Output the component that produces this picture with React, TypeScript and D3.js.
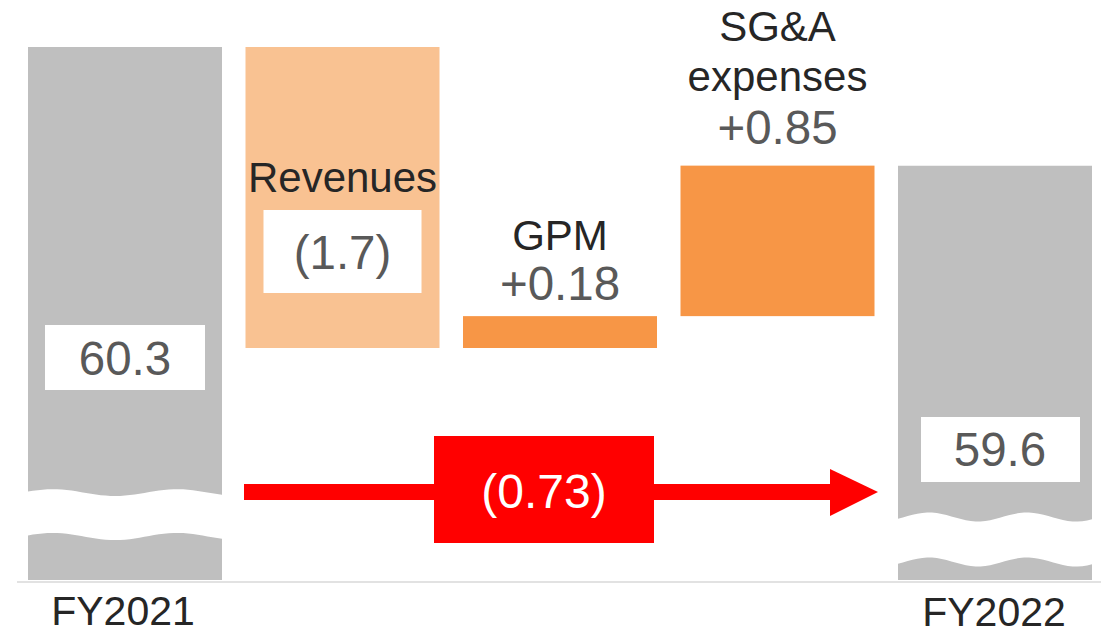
import React from "react";
import * as d3 from "d3";

const categories = ["FY2021", "Revenues", "GPM", "SG&A expenses", "FY2022"];
const startValue = 60.3;
const deltas = [-1.7, 0.18, 0.85];
const deltaLabels = ["(1.7)", "+0.18", "+0.85"];
const totalLabels = ["60.3", "59.6"];
const changeLabel = "(0.73)";

const W = 1101;
const H = 634;
const FONT = "'Liberation Sans', Arial, sans-serif";
const GRAY = "#BFBFBF";
const LIGHT_ORANGE = "#F9C292";
const ORANGE = "#F79646";
const RED = "#FF0000";
const NAME_COLOR = "#262626";
const VALUE_COLOR = "#595959";
const NAME_SIZE = 42;
const VALUE_SIZE = 47.5;

export default function App() {
  const x = d3
    .scaleBand<string>()
    .domain(categories)
    .range([16.25, 1103.75])
    .paddingInner(0.108)
    .paddingOuter(0.054);
  const bw = x.bandwidth();

  const y = d3.scaleLinear().domain([58.6, 60.3]).range([348, 47]);
  const baseY = 580;

  const steps: { cat: string; from: number; to: number }[] = [];
  let run = startValue;
  deltas.forEach((d, i) => {
    steps.push({ cat: categories[i + 1], from: run, to: run + d });
    run += d;
  });
  const endValue = run;

  const wave = (x0: number, x1: number, center: number, amp: number, period: number, peakX: number) => {
    const pts: [number, number][] = [];
    const n = 40;
    for (let i = 0; i <= n; i++) {
      const xx = x0 + ((x1 - x0) * i) / n;
      pts.push([xx, center - amp * Math.cos((2 * Math.PI * (xx - peakX)) / period)]);
    }
    return pts;
  };

  const brokenBar = (
    cat: string,
    topVal: number,
    upper: { c: number; a: number; p: number; pk: number },
    lower: { c: number; a: number; p: number; pk: number }
  ) => {
    const x0 = x(cat)!;
    const x1 = x0 + bw;
    const top = y(topVal);
    const up = wave(x0, x1, upper.c, upper.a, upper.p, upper.pk);
    const lo = wave(x0, x1, lower.c, lower.a, lower.p, lower.pk);
    const line = d3.line();
    const upperPath =
      `M${x0},${top}L${x1},${top}` +
      line(up.slice().reverse())!.replace(/^M/, "L") +
      "Z";
    const lowerPath = line(lo)! + `L${x1},${baseY}L${x0},${baseY}Z`;
    return (
      <g key={cat}>
        <path d={upperPath} fill={GRAY} />
        <path d={lowerPath} fill={GRAY} />
      </g>
    );
  };

  const cx = (cat: string) => x(cat)! + bw / 2;

  return (
    <svg
      width={W}
      height={H}
      style={{ position: "absolute", left: 0, top: 0, background: "#fff" }}
      fontFamily={FONT}
    >
      {brokenBar(
        categories[0],
        startValue,
        { c: 492.6, a: 3.4, p: 124, pk: 53 },
        { c: 536.5, a: 3.6, p: 124, pk: 53 }
      )}
      {brokenBar(
        categories[4],
        endValue,
        { c: 517, a: 4.5, p: 98, pk: 1027 },
        { c: 562, a: 4.5, p: 98, pk: 1027 }
      )}

      {steps.map((s, i) => (
        <rect
          key={s.cat}
          x={x(s.cat)}
          width={bw}
          y={y(Math.max(s.from, s.to))}
          height={Math.abs(y(s.from) - y(s.to))}
          fill={i === 0 ? LIGHT_ORANGE : ORANGE}
        />
      ))}

      <line x1={17} x2={W} y1={582} y2={582} stroke="#D9D9D9" strokeWidth={1.5} />

      <text x={cx(categories[0]) - 2} y={625} fontSize={41} fill={NAME_COLOR} textAnchor="middle">
        {categories[0]}
      </text>
      <text x={cx(categories[4]) - 1} y={626} fontSize={41} fill={NAME_COLOR} textAnchor="middle">
        {categories[4]}
      </text>

      <rect x={cx(categories[0]) - 80} y={325} width={160} height={65} fill="#fff" />
      <text x={cx(categories[0])} y={375} fontSize={VALUE_SIZE} fill={VALUE_COLOR} textAnchor="middle">
        {totalLabels[0]}
      </text>

      <rect x={cx(categories[4]) - 74} y={417} width={159} height={65} fill="#fff" />
      <text x={cx(categories[4]) + 5} y={466} fontSize={VALUE_SIZE} fill={VALUE_COLOR} textAnchor="middle">
        {totalLabels[1]}
      </text>

      <text x={cx(categories[1])} y={192} fontSize={NAME_SIZE} fill={NAME_COLOR} textAnchor="middle">
        Revenues
      </text>
      <rect x={cx(categories[1]) - 79} y={210} width={158} height={83} fill="#fff" />
      <text x={cx(categories[1])} y={269} fontSize={VALUE_SIZE} fill={VALUE_COLOR} textAnchor="middle">
        {deltaLabels[0]}
      </text>

      <text x={cx(categories[2])} y={250} fontSize={NAME_SIZE} fill={NAME_COLOR} textAnchor="middle">
        GPM
      </text>
      <text x={cx(categories[2])} y={300} fontSize={VALUE_SIZE} fill={VALUE_COLOR} textAnchor="middle">
        {deltaLabels[1]}
      </text>

      <text x={cx(categories[3])} y={41} fontSize={NAME_SIZE} fill={NAME_COLOR} textAnchor="middle">
        SG&amp;A
      </text>
      <text x={cx(categories[3])} y={91} fontSize={NAME_SIZE} fill={NAME_COLOR} textAnchor="middle">
        expenses
      </text>
      <text x={cx(categories[3])} y={144} fontSize={VALUE_SIZE} fill={VALUE_COLOR} textAnchor="middle">
        {deltaLabels[2]}
      </text>

      <rect x={244} y={484} width={590} height={16} fill={RED} />
      <path d="M830,469L878,492L830,516Z" fill={RED} />
      <rect x={434} y={436} width={220} height={107} fill={RED} />
      <text x={544} y={508} fontSize={48} fill="#fff" textAnchor="middle">
        {changeLabel}
      </text>
    </svg>
  );
}
